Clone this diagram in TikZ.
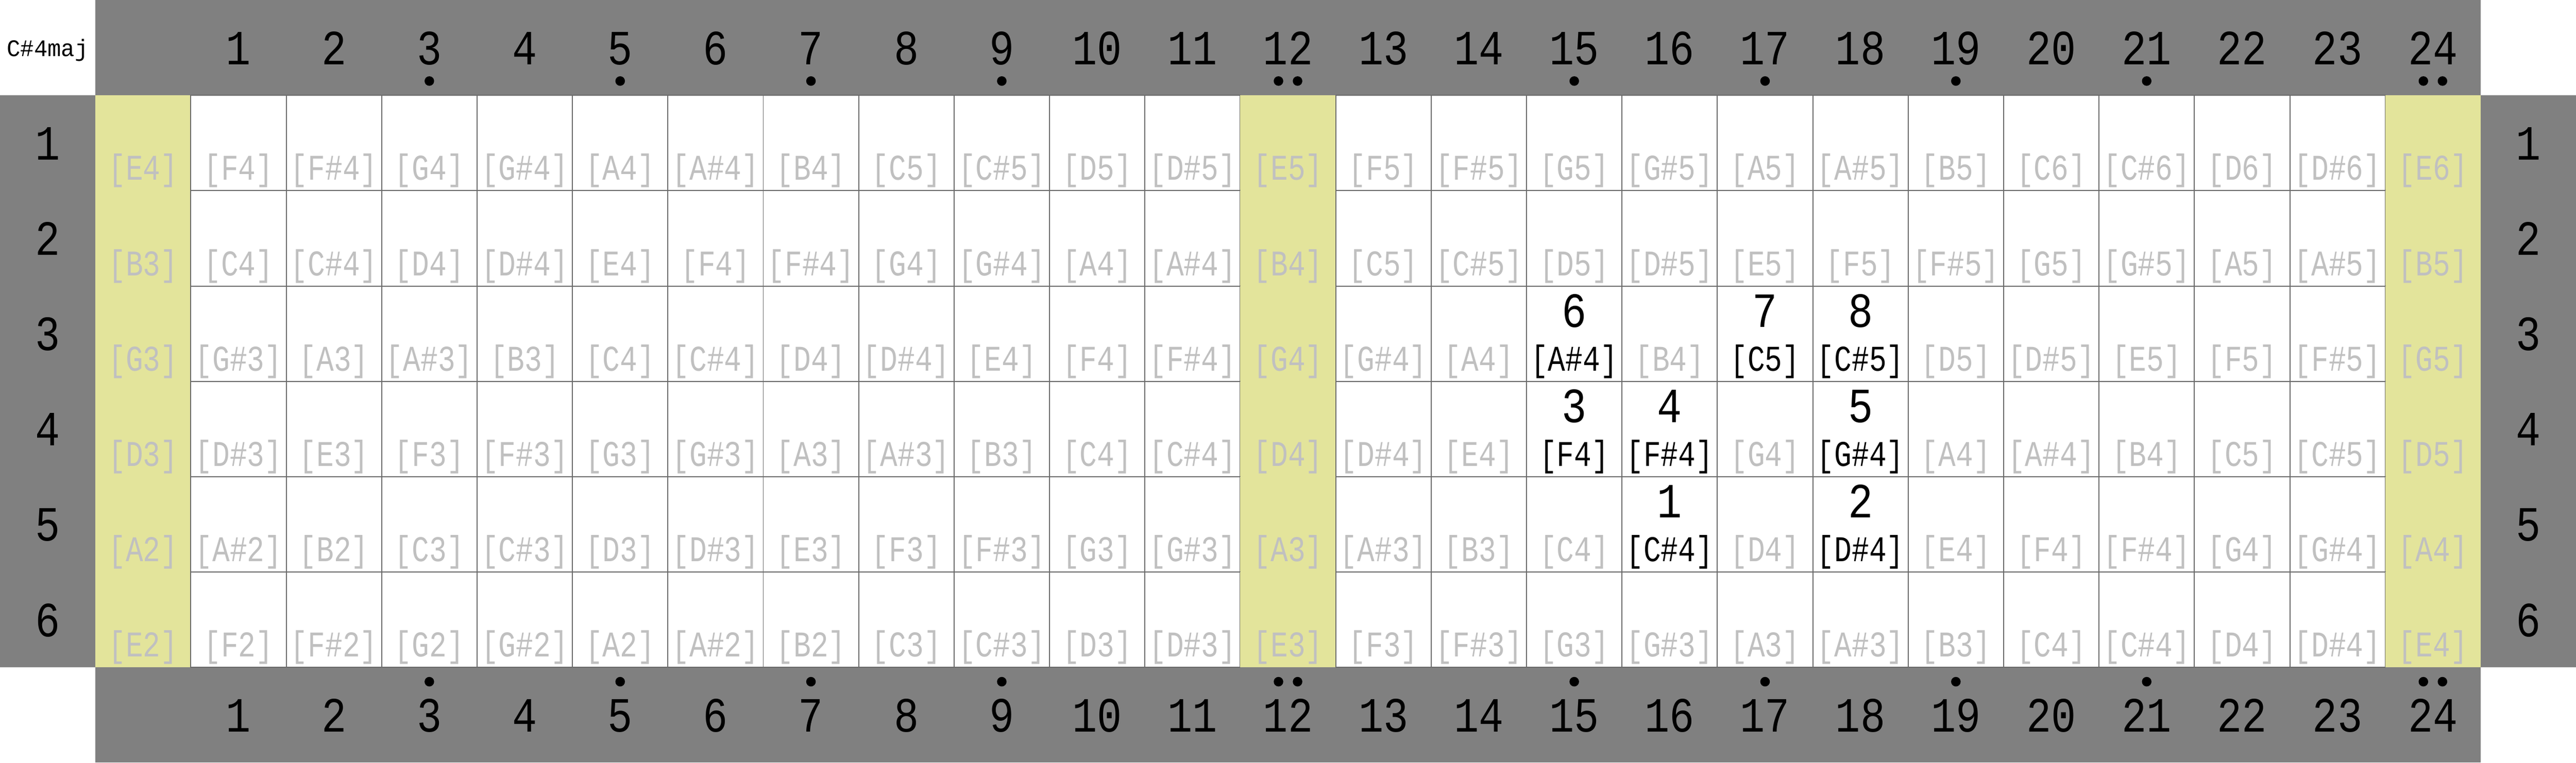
\documentclass[tikz,border=0pt]{standalone}
\usepackage{fontspec}
\newfontfamily\hdfont[FakeStretch=0.84]{Liberation Mono}
\newfontfamily\ntfont[FakeStretch=0.80]{Liberation Mono}
\newfontfamily\lbfont[FakeStretch=0.95]{Liberation Mono}
\definecolor{hdgray}{HTML}{808080}
\definecolor{nutyel}{HTML}{E3E49B}
\definecolor{notegray}{HTML}{C0C0C0}
\definecolor{linegray}{HTML}{6A6A6A}
\newcommand\notenm[1]{\ifcase#1 C\or C\#\or D\or D\#\or E\or F\or F\#\or G\or G\#\or A\or A\#\or B\fi}
\foreach \r/\f/\k in {3/15/6,3/17/7,3/18/8,4/15/3,4/16/4,4/18/5,5/16/1,5/18/2}{%
  \expandafter\xdef\csname hl\r x\f\endcsname{\k}}
\begin{document}
\begin{tikzpicture}[x=1cm,y=1cm,
  cellw/.style={draw=linegray,line width=0.3pt,fill=white,minimum size=1cm,inner sep=0pt,outer sep=0pt},
  celly/.style={fill=nutyel,minimum size=1cm,inner sep=0pt,outer sep=0pt},
  hdnum/.style={font=\hdfont\fontsize{14.7}{15}\selectfont,anchor=base,inner sep=0pt},
  notegr/.style={font=\ntfont\fontsize{10.8}{11}\selectfont,text=notegray,anchor=base,inner sep=0pt},
  notebk/.style={font=\ntfont\fontsize{10.8}{11}\selectfont,text=black,anchor=base,inner sep=0pt},
  fingnum/.style={font=\hdfont\fontsize{14.7}{15}\selectfont,anchor=base,inner sep=0pt},
  fdot/.style={circle,fill=black,minimum size=0.1cm,inner sep=0pt}
]
\useasboundingbox (0,0) rectangle (27,-8);
% header bands
\node[fill=hdgray,minimum width=25cm,minimum height=1cm,inner sep=0pt] (topband) at (13.5,-0.5) {};
\node[fill=hdgray,minimum width=25cm,minimum height=1cm,inner sep=0pt] (botband) at (13.5,-7.5) {};
\node[fill=hdgray,minimum width=1cm,minimum height=6cm,inner sep=0pt] (leftband) at (0.5,-4) {};
\node[fill=hdgray,minimum width=1cm,minimum height=6cm,inner sep=0pt] (rightband) at (26.5,-4) {};
% title
\node[font=\lbfont\fontsize{7.1}{8}\selectfont,anchor=base,inner sep=0pt] (title) at (0.5,-0.59) {C\#4maj};
% cells
\foreach \r in {1,...,6}{
  \foreach \f in {0,...,24}{
    \pgfmathtruncatemacro\isy{(\f==0)||(\f==12)||(\f==24)}
    \ifnum\isy=1
      \node[celly] (c\r x\f) at (\f+1.5,-\r-0.5) {};
    \else
      \node[cellw] (c\r x\f) at (\f+1.5,-\r-0.5) {};
    \fi
  }
}
% notes
\foreach \r/\b in {1/52,2/47,3/43,4/38,5/33,6/28}{
  \foreach \f in {0,...,24}{
    \pgfmathtruncatemacro\s{\b+\f}
    \pgfmathtruncatemacro\n{mod(\s,12)}
    \pgfmathtruncatemacro\o{floor(\s/12)}
    \ifcsname hl\r x\f\endcsname
      \node[notebk] (n\r x\f) at (\f+1.5,-\r-0.89) {[\notenm{\n}\o]};
      \node[fingnum] (k\r x\f) at (\f+1.5,-\r-0.43) {\csname hl\r x\f\endcsname};
    \else
      \node[notegr] (n\r x\f) at (\f+1.5,-\r-0.89) {[\notenm{\n}\o]};
    \fi
  }
}
% fret numbers
\foreach \f in {1,...,24}{
  \node[hdnum] (tn\f) at (\f+1.5,-0.68) {\f};
  \node[hdnum] (bn\f) at (\f+1.5,-7.675) {\f};
}
% string numbers
\foreach \r in {1,...,6}{
  \node[hdnum] (ls\r) at (0.5,-\r-0.675) {\r};
  \node[hdnum] (rs\r) at (26.5,-\r-0.675) {\r};
}
% fret markers
\foreach \f in {3,5,7,9,15,17,19,21}{
  \node[fdot] (td\f) at (\f+1.5,-0.85) {};
  \node[fdot] (bd\f) at (\f+1.5,-7.15) {};
}
\foreach \f in {12,24}{
  \node[fdot] (tda\f) at (\f+1.4,-0.85) {};
  \node[fdot] (tdb\f) at (\f+1.6,-0.85) {};
  \node[fdot] (bda\f) at (\f+1.4,-7.15) {};
  \node[fdot] (bdb\f) at (\f+1.6,-7.15) {};
}
\end{tikzpicture}
\end{document}
